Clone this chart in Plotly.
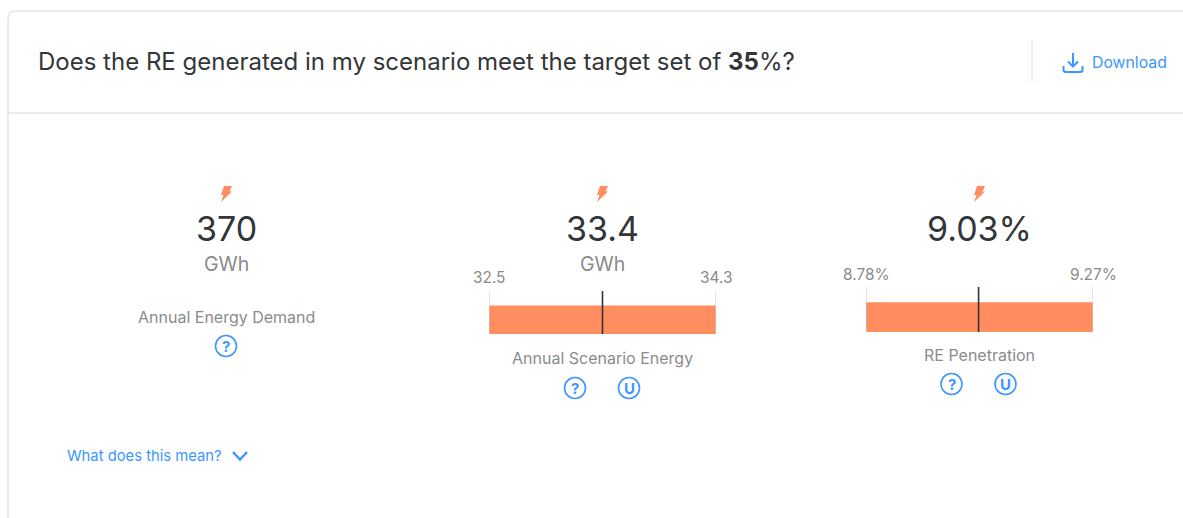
import plotly.graph_objects as go

FONT = "Inter"
DARK = "#333638"
GREY = "#8b8b8b"
BLUE = "#3b96ff"
ORANGE = "#ff8d60"
LINE = "#e4e4e4"

title_parts = ["Does the RE generated in my scenario meet the target set of ", "35", "%?"]
kpi_values = ["370", "33.4", "9.03%"]
kpi_units = ["GWh", "GWh", ""]
kpi_names = ["Annual Energy Demand", "Annual Scenario Energy", "RE Penetration"]
range_low = [32.5, 8.78]
range_high = [34.3, 9.27]
range_point = [33.4, 9.023]
range_low_text = ["32.5", "8.78%"]
range_high_text = ["34.3", "9.27%"]

W, H = 1183, 518
fig = go.Figure()
fig.add_trace(go.Scatter(x=[0, W], y=[0, H], mode="markers", marker=dict(opacity=0), hoverinfo="skip", showlegend=False))

shapes = []
ann = []


def text(x, y, s, size, color, anchor="center", xref="x", yref="y"):
    ann.append(dict(x=x, y=y, xref=xref, yref=yref, text=s, showarrow=False, xanchor=anchor, yanchor="middle",
                    font=dict(family=FONT, size=size, color=color)))


def path(d, color=None, fill=None, width=1.5):
    shapes.append(dict(type="path", xref="x", yref="y", path=d, line=dict(color=color or "rgba(0,0,0,0)", width=width),
                       fillcolor=fill or "rgba(0,0,0,0)", layer="above"))


def bolt(cx, cy):
    path(f"M {cx-2} {cy-8} L {cx+6} {cy-8} L {cx+3.5} {cy-2.5} L {cx+6} {cy-2.5} L {cx-5} {cy+8} L {cx-2.5} {cy+1} L {cx-5} {cy+1} Z",
         fill=ORANGE, width=0)


def badge(cx, cy, s):
    shapes.append(dict(type="circle", xref="x", yref="y", x0=cx-10.5, x1=cx+10.5, y0=cy-10.5, y1=cy+10.5,
                       line=dict(color=BLUE, width=1.6), layer="above"))
    text(cx, cy, f"<b>{s}</b>", 15, BLUE)


# card frame
path(f"M 8 {H} L 8 19 Q 8 11 16 11 L {W} 11", color=LINE, width=1.5)
path(f"M 8 113 L {W} 113", color=LINE, width=1.5)
path("M 1032 40 L 1032 83", color=LINE, width=1)

text(36, 61, f"{title_parts[0]}<b>{title_parts[1]}</b>{title_parts[2]}", 24, DARK, "left")

# download
path("M 1073 53 L 1073 66 M 1068 61.5 L 1073 66.5 L 1078 61.5", color=BLUE, width=2)
path("M 1063.5 66 L 1063.5 70 Q 1063.5 72 1066 72 L 1080 72 Q 1082.5 72 1082.5 70 L 1082.5 66", color=BLUE, width=2)
text(1090, 62, "Download", 15.8, BLUE, "left")

# KPI headers
centers = [226, 602, 979]
name_y = [317, 358, 355]
for c, v, u, n, ny in zip(centers, kpi_values, kpi_units, kpi_names, name_y):
    bolt(c, 194)
    text(c, 228, v, 34, DARK)
    if u:
        text(c, 264, u, 19.5, GREY)
    text(c, ny, n, 16, GREY)

badge(226, 346, "?")
badge(575, 388, "?")
badge(629, 388, "U")
badge(951.5, 384, "?")
badge(1005.5, 384, "U")

text(65, 456, "What does this mean?", 14.8, BLUE, "left")
path("M 233 452 L 240 459.5 L 247 452", color=BLUE, width=2.4)

# range bars, drawn through their own axes
dom_x = [(489, 716), (866, 1093)]
dom_y = [(291, 334), (287, 332)]
label_y = [277, 274]
layout_axes = {}
for i in range(2):
    n = i + 2
    xa, ya = f"x{n}", f"y{n}"
    lo, hi, pt = range_low[i], range_high[i], range_point[i]
    fig.add_trace(go.Bar(x=[hi - lo], base=[lo], y=[0.33], width=[0.66], orientation="h", marker=dict(color=ORANGE, line=dict(width=0)),
                         xaxis=xa, yaxis=ya, showlegend=False, hoverinfo="skip"))
    for xv, col, w in [(lo, "#c8c8c8", 1), (hi, "#c8c8c8", 1), (pt, "#333333", 1.6)]:
        fig.add_trace(go.Scatter(x=[xv, xv], y=[0, 1], mode="lines", line=dict(color=col, width=w), cliponaxis=False,
                                 xaxis=xa, yaxis=ya, showlegend=False, hoverinfo="skip"))
    layout_axes[f"xaxis{n}"] = dict(domain=[dom_x[i][0] / W, dom_x[i][1] / W], range=[lo, hi], visible=False, anchor=ya, fixedrange=True)
    layout_axes[f"yaxis{n}"] = dict(domain=[1 - dom_y[i][1] / H, 1 - dom_y[i][0] / H], range=[0, 1], visible=False, anchor=xa, fixedrange=True)
    text(lo, label_y[i], range_low_text[i], 15.4, GREY, xref=xa)
    text(hi, label_y[i], range_high_text[i], 15.4, GREY, xref=xa)

fig.update_layout(
    width=W, height=H, margin=dict(l=0, r=0, t=0, b=0), paper_bgcolor="white", plot_bgcolor="white", showlegend=False,
    xaxis=dict(domain=[0, 1], range=[0, W], visible=False, fixedrange=True),
    yaxis=dict(domain=[0, 1], range=[H, 0], visible=False, fixedrange=True),
    shapes=shapes, annotations=ann, **layout_axes,
)
fig.write_html("out.html", config={"displayModeBar": False},
               post_script="document.body.style.margin='0';document.documentElement.style.overflow='hidden';")
